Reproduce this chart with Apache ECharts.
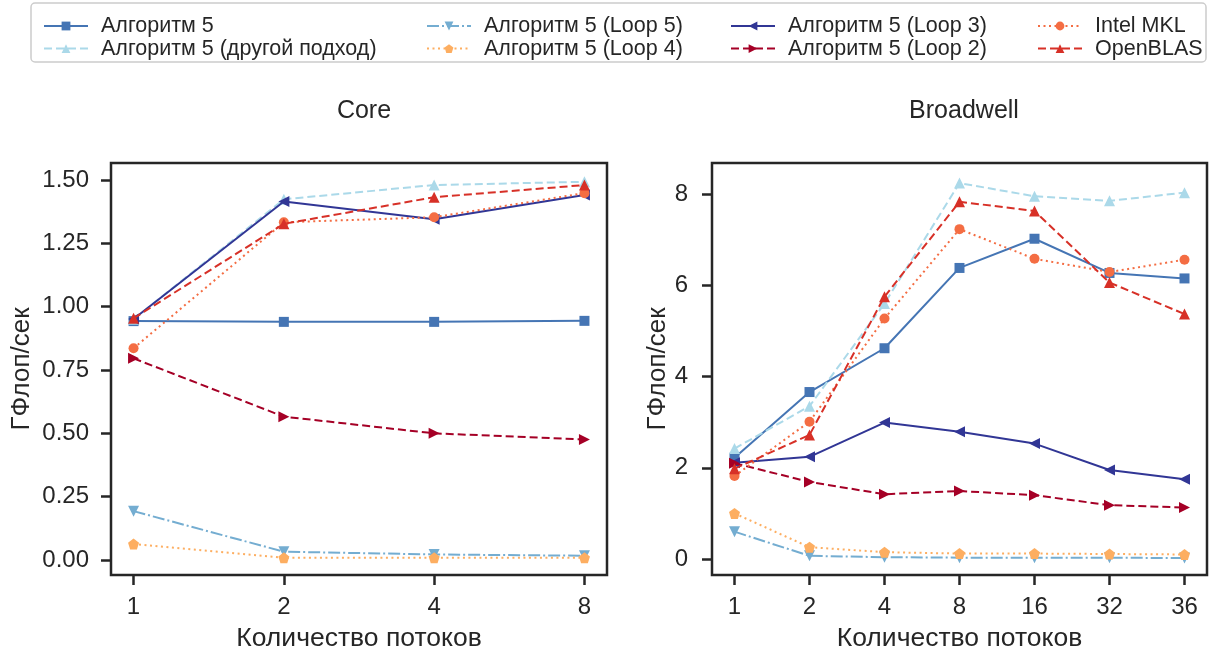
<!DOCTYPE html>
<html><head><meta charset="utf-8">
<script src="https://cdn.jsdelivr.net/npm/echarts@6/dist/echarts.min.js"></script>
<style>html,body{margin:0;padding:0;background:#fff}#c{width:1210px;height:652px}</style>
</head><body><div id="c"></div>
<script>
const coreThreads = ['1', '2', '4', '8'];
const broadwellThreads = ['1', '2', '4', '8', '16', '32', '36'];
const coreTicksY = [0, 0.25, 0.5, 0.75, 1.0, 1.25, 1.5];
const broadwellTicksY = [0, 2, 4, 6, 8];

const seriesNames = ['Алгоритм 5', 'Алгоритм 5 (другой подход)', 'Алгоритм 5 (Loop 5)', 'Алгоритм 5 (Loop 4)',
  'Алгоритм 5 (Loop 3)', 'Алгоритм 5 (Loop 2)', 'Intel MKL', 'OpenBLAS'];

// Core
const coreAlg5      = [0.943, 0.940, 0.940, 0.944];
const coreAlt       = [0.950, 1.424, 1.480, 1.493];
const coreLoop5     = [0.193, 0.033, 0.022, 0.017];
const coreLoop4     = [0.063, 0.009, 0.009, 0.009];
const coreLoop3     = [0.951, 1.415, 1.345, 1.441];
const coreLoop2     = [0.796, 0.566, 0.500, 0.476];
const coreMKL       = [0.836, 1.333, 1.353, 1.448];
const coreOpenBLAS  = [0.954, 1.327, 1.432, 1.480];

// Broadwell
const bwAlg5     = [2.22, 3.66, 4.62, 6.38, 7.02, 6.27, 6.15];
const bwAlt      = [2.42, 3.35, 5.60, 8.24, 7.95, 7.85, 8.03];
const bwLoop5    = [0.60, 0.07, 0.04, 0.03, 0.03, 0.03, 0.02];
const bwLoop4    = [1.00, 0.26, 0.15, 0.12, 0.12, 0.11, 0.10];
const bwLoop3    = [2.11, 2.24, 2.99, 2.79, 2.53, 1.95, 1.75];
const bwLoop2    = [2.10, 1.69, 1.42, 1.49, 1.40, 1.18, 1.13];
const bwMKL      = [1.82, 3.01, 5.27, 7.23, 6.58, 6.29, 6.56];
const bwOpenBLAS = [1.98, 2.72, 5.75, 7.83, 7.63, 6.06, 5.37];

const coreData = [coreAlg5, coreAlt, coreLoop5, coreLoop4, coreLoop3, coreLoop2, coreMKL, coreOpenBLAS];
const bwData = [bwAlg5, bwAlt, bwLoop5, bwLoop4, bwLoop3, bwLoop2, bwMKL, bwOpenBLAS];

const FONT = '"Liberation Sans", Arial, sans-serif';
const TXT = '#262626';
const pentagon = 'path://M50,0 L97.55,34.55 L79.39,90.45 L20.61,90.45 L2.45,34.55 Z';
const styles = [
  {color: '#4575b4', type: 'solid', symbol: 'rect', rot: 0, size: 10},
  {color: '#abd9e9', type: [8, 4], symbol: 'triangle', rot: 0, size: 11},
  {color: '#74add1', type: [12, 3, 2, 3], symbol: 'triangle', rot: 180, size: 11},
  {color: '#fdae61', type: [2, 3.5], symbol: pentagon, rot: 0, size: 11},
  {color: '#313695', type: 'solid', symbol: 'triangle', rot: 90, size: 11},
  {color: '#a50026', type: [8, 4], symbol: 'triangle', rot: -90, size: 11},
  {color: '#f46d43', type: [2, 3.5], symbol: 'circle', rot: 0, size: 10},
  {color: '#d73027', type: [8, 4], symbol: 'triangle', rot: 0, size: 11}
];

function mkSeries(dataArr, gi) {
  return dataArr.map((vals, k) => ({
    name: seriesNames[k], type: 'line', xAxisIndex: gi, yAxisIndex: gi,
    data: vals.map((v, i) => [i, v]),
    symbol: styles[k].symbol, symbolRotate: styles[k].rot, symbolSize: styles[k].size,
    showAllSymbol: true,
    lineStyle: {color: styles[k].color, width: 2, type: styles[k].type},
    itemStyle: {color: styles[k].color},
    emphasis: {disabled: true}, animation: false, z: 2 + k
  }));
}

function xAxis(gi, labels) {
  const n = labels.length;
  const idx = labels.map((_, i) => i);
  return {
    type: 'value', gridIndex: gi, min: -0.05 * (n - 1), max: (n - 1) * 1.05,
    name: 'Количество потоков', nameLocation: 'middle', nameGap: 50,
    nameTextStyle: {fontFamily: FONT, fontSize: 26.5, color: TXT},
    axisLine: {show: false, onZero: false},
    axisTick: {show: true, length: 10, lineStyle: {color: TXT, width: 2.5}, customValues: idx},
    axisLabel: {show: true, customValues: idx, formatter: v => labels[Math.round(v)], fontFamily: FONT, fontSize: 24, color: TXT, margin: 20},
    splitLine: {show: false}
  };
}
function yAxis(gi, ticks, min, max, dec, gap, margin) {
  return {
    type: 'value', gridIndex: gi, min: min, max: max,
    name: 'ГФлоп/сек', nameLocation: 'middle', nameGap: gap,
    nameTextStyle: {fontFamily: FONT, fontSize: 26, color: TXT},
    axisLine: {show: false, onZero: false},
    axisTick: {show: true, length: 10, lineStyle: {color: TXT, width: 2.5}, customValues: ticks},
    axisLabel: {show: true, customValues: ticks, formatter: v => v.toFixed(dec), fontFamily: FONT, fontSize: 24, color: TXT, margin: margin},
    splitLine: {show: false}
  };
}

const legendCols = [[0, 1, 38], [2, 3, 421], [4, 5, 725], [6, 7, 1032]];
const legends = legendCols.map(c => ({
  orient: 'vertical', left: c[2], top: 10, itemWidth: 44, itemHeight: 11, itemGap: 0.6,
  data: [seriesNames[c[0]], seriesNames[c[1]]],
  textStyle: {fontFamily: FONT, fontSize: 21.5, color: TXT, padding: [0, 0, 0, 8], lineHeight: 21},
  selectedMode: false
}));

const chart = echarts.init(document.getElementById('c'), null, {renderer: 'canvas'});
chart.setOption({
  backgroundColor: '#fff',
  animation: false,
  title: [
    {text: 'Core', left: 359, top: 94, textAlign: 'center', textStyle: {fontFamily: FONT, fontSize: 25, fontWeight: 'normal', color: TXT}},
    {text: 'Broadwell', left: 959, top: 94, textAlign: 'center', textStyle: {fontFamily: FONT, fontSize: 25, fontWeight: 'normal', color: TXT}}
  ],
  legend: legends,
  graphic: [{type: 'rect', shape: {x: 31, y: 3, width: 1175, height: 59, r: 4}, style: {fill: 'none', stroke: '#cccccc', lineWidth: 1.5}, z: -1}],
  grid: [
    {left: 111, top: 163, width: 496, height: 412, show: true, borderColor: TXT, borderWidth: 2.5, backgroundColor: 'transparent', containLabel: false, outerBoundsMode: 'none'},
    {left: 712, top: 163, width: 495, height: 412, show: true, borderColor: TXT, borderWidth: 2.5, backgroundColor: 'transparent', containLabel: false, outerBoundsMode: 'none'}
  ],
  xAxis: [xAxis(0, coreThreads), xAxis(1, broadwellThreads)],
  yAxis: [yAxis(0, coreTicksY, -0.059, 1.567, 2, 76, 22), yAxis(1, broadwellTicksY, -0.35, 8.68, 0, 41, 24)],
  series: mkSeries(coreData, 0).concat(mkSeries(bwData, 1))
});
</script></body></html>
